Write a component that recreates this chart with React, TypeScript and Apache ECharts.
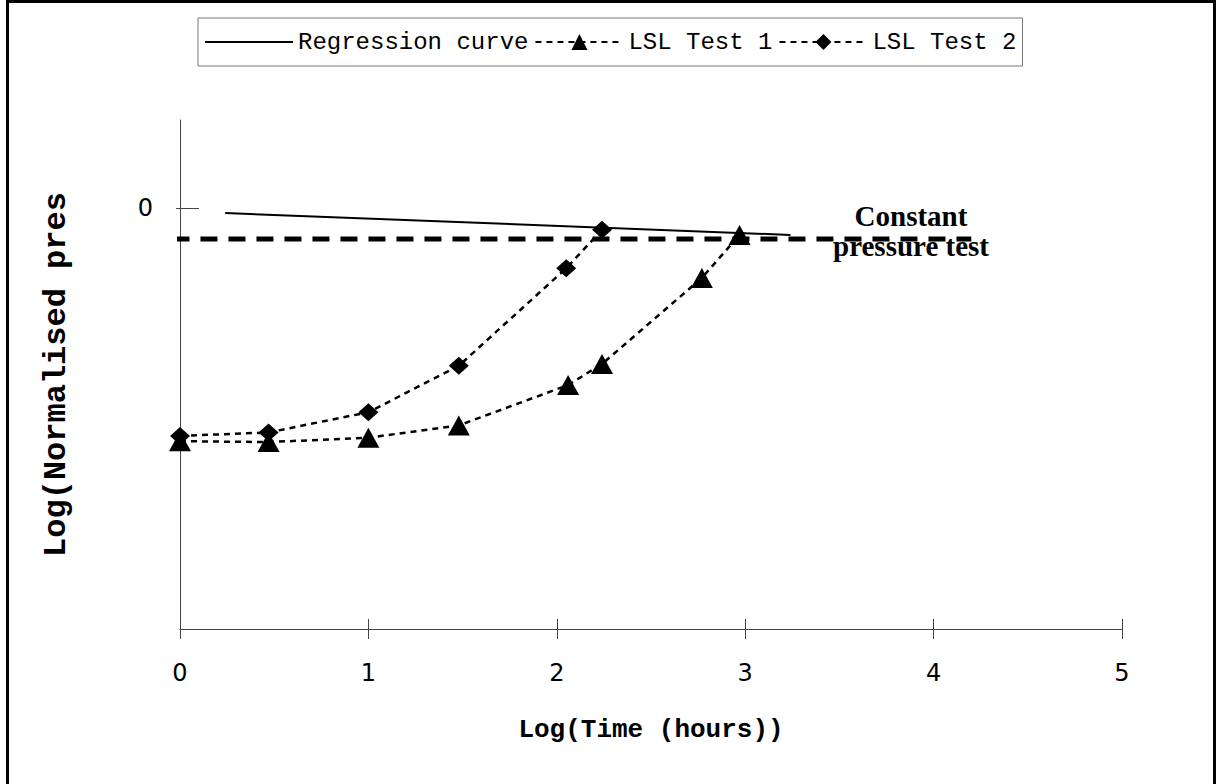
import React, { useEffect, useRef } from "react";
import * as echarts from "echarts";

// ---- data ----
const xTicks = [0, 1, 2, 3, 4, 5];
const yTickValues = [0];

const seriesNames = ["Regression curve", "LSL Test 1", "LSL Test 2"];

const regressionX = [0.24, 3.24];
const regressionY = [-0.006, -0.031];

const test1X = [0, 0.47, 1, 1.48, 2.06, 2.24, 2.77, 2.97];
const test1Y = [-0.266, -0.267, -0.262, -0.248, -0.202, -0.178, -0.08, -0.031];

const test2X = [0, 0.47, 1, 1.48, 2.05, 2.24];
const test2Y = [-0.26, -0.256, -0.233, -0.18, -0.069, -0.025];

const constantX = [-0.04, 4.2];
const constantY = [-0.0356, -0.0356];

const annotationLines = ["Constant", "pressure test"];
const xTitle = "Log(Time (hours))";
const yTitle = "Log(Normalised pressure)";

const zip = (xs: number[], ys: number[]) => xs.map((x, i) => [x, ys[i]]);

export default function App() {
  const ref = useRef<HTMLDivElement>(null);
  useEffect(() => {
    const chart = echarts.init(ref.current!, null, { renderer: "svg" });
    const axisColor = "#444";
    const annotationFont = {
      fontFamily: "Liberation Serif",
      fontWeight: "bold",
      fontSize: 29,
      fill: "#000",
      textAlign: "center",
      textVerticalAlign: "middle",
    };
    chart.setOption({
      animation: false,
      backgroundColor: "#fff",
      grid: { left: 180, right: 97, top: 120, bottom: 155 },
      legend: {
        data: [
          { name: seriesNames[0], itemStyle: { opacity: 0 } },
          { name: seriesNames[1] },
          { name: seriesNames[2] },
        ],
        left: 198,
        top: 18,
        itemWidth: 88,
        itemHeight: 20,
        itemGap: 6,
        padding: [12, 6],
        borderColor: "#777",
        borderWidth: 1,
        textStyle: { fontFamily: "Liberation Mono", fontSize: 24, color: "#000" },
      },
      xAxis: [
        {
          type: "value",
          position: "bottom",
          min: xTicks[0],
          max: xTicks[xTicks.length - 1],
          interval: 1,
          axisLine: { onZero: false, lineStyle: { color: axisColor, width: 1 } },
          axisTick: { length: 10, lineStyle: { color: axisColor } },
          axisLabel: { margin: 32, fontSize: 24, fontFamily: "DejaVu Sans", color: "#000" },
          splitLine: { show: false },
          name: xTitle,
          nameLocation: "middle",
          nameGap: 88,
          nameTextStyle: { fontFamily: "Liberation Mono", fontWeight: "bold", fontSize: 26, color: "#000" },
        },
        {
          type: "value",
          position: "bottom",
          min: xTicks[0],
          max: xTicks[xTicks.length - 1],
          interval: 1,
          axisLine: { show: false, onZero: false },
          axisTick: { inside: true, length: 10, lineStyle: { color: axisColor } },
          axisLabel: { show: false },
          splitLine: { show: false },
        },
      ],
      yAxis: [
        {
          type: "value",
          position: "left",
          min: -0.48,
          max: 0.1,
          axisLine: { show: true, onZero: false, lineStyle: { color: axisColor, width: 1 } },
          axisTick: { show: true, customValues: yTickValues, length: 4, lineStyle: { color: axisColor } },
          axisLabel: { customValues: yTickValues, margin: 27, fontSize: 24, fontFamily: "DejaVu Sans", color: "#000" },
          splitLine: { show: false },
          name: yTitle,
          nameLocation: "middle",
          nameGap: 108,
          nameRotate: 90,
          nameTruncate: { maxWidth: 378, ellipsis: "" },
          nameTextStyle: { fontFamily: "Liberation Mono", fontWeight: "bold", fontSize: 32, color: "#000" },
        },
        {
          type: "value",
          position: "left",
          min: -0.48,
          max: 0.1,
          axisLine: { show: false, onZero: false },
          axisTick: { show: true, inside: true, customValues: yTickValues, length: 19, lineStyle: { color: axisColor } },
          axisLabel: { show: false },
          splitLine: { show: false },
        },
      ],
      series: [
        {
          name: seriesNames[0],
          type: "line",
          data: zip(regressionX, regressionY),
          symbol: "none",
          lineStyle: { color: "#000", width: 2 },
          itemStyle: { color: "#000" },
          z: 3,
        },
        {
          name: seriesNames[1],
          type: "line",
          data: zip(test1X, test1Y),
          symbol: "triangle",
          symbolSize: [22, 20],
          lineStyle: { color: "#000", width: 2.5, type: [6, 5] },
          itemStyle: { color: "#000" },
          z: 4,
        },
        {
          name: seriesNames[2],
          type: "line",
          data: zip(test2X, test2Y),
          symbol: "diamond",
          symbolSize: [20, 18],
          lineStyle: { color: "#000", width: 2.5, type: [6, 5] },
          itemStyle: { color: "#000" },
          z: 4,
        },
        {
          name: "Constant pressure test",
          type: "line",
          data: zip(constantX, constantY),
          symbol: "none",
          clip: false,
          lineStyle: { color: "#000", width: 5, type: [17, 11] },
          z: 2,
          silent: true,
        },
      ],
      graphic: [
        {
          type: "rect",
          shape: { x: 7.5, y: 1.5, width: 1207, height: 800 },
          style: { fill: "none", stroke: "#000", lineWidth: 3 },
          silent: true,
        },
        {
          type: "text",
          x: 911,
          y: 216,
          style: { ...annotationFont, text: annotationLines[0] },
        },
        {
          type: "text",
          x: 911,
          y: 246,
          style: { ...annotationFont, text: annotationLines[1] },
        },
      ],
    });
    return () => chart.dispose();
  }, []);
  return (
    <div
      ref={ref}
      style={{ position: "absolute", left: 0, top: 0, width: 1219, height: 784, background: "#fff" }}
    />
  );
}
